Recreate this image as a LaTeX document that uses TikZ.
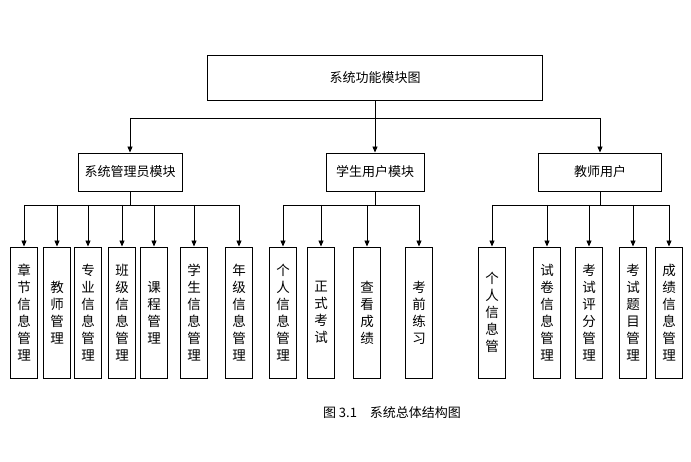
\documentclass[tikz,border=0pt]{standalone}
\usepackage{fontspec}
\newfontfamily\cjk{Noto Sans CJK SC}
\usetikzlibrary{arrows.meta}
\begin{document}
\begin{tikzpicture}[x=1pt,y=-1pt,
  box/.style={draw,line width=0.9pt,font=\cjk\fontsize{13}{15}\selectfont,inner sep=0pt},
  vbox/.style={draw,line width=0.9pt,font=\cjk\fontsize{13.5}{17}\selectfont,minimum width=27pt,minimum height=131pt,align=center,inner sep=0pt},
  arr/.style={-{Triangle[length=6pt,width=5pt]},line width=0.9pt},
  ln/.style={line width=0.9pt}]
\useasboundingbox (0,0) rectangle (691,462);
\node[box,minimum width=335pt,minimum height=45pt] (top) at (375,77.5) {系统功能模块图};
\node[box,minimum width=104pt,minimum height=38pt] (a) at (130,172) {系统管理员模块};
\node[box,minimum width=98pt,minimum height=38pt] (s) at (375,172) {学生用户模块};
\node[box,minimum width=123pt,minimum height=38pt] (t) at (600,172) {教师用户};
\coordinate (tb) at (375,118);
\draw[ln] (top.south) -- (tb);
\draw[ln] (130,118) -- (600,118);
\draw[arr] (130,118) -- (a.north);
\draw[arr] (tb) -- (s.north);
\draw[arr] (600,118) -- (t.north);
\foreach \n/\x/\t in {a1/24/章\\节\\信\\息\\管\\理, a2/57/教\\师\\管\\理, a3/88/专\\业\\信\\息\\管\\理, a4/122/班\\级\\信\\息\\管\\理, a5/154/课\\程\\管\\理, a6/194/学\\生\\信\\息\\管\\理, a7/239/年\\级\\信\\息\\管\\理,
  s1/283/个\\人\\信\\息\\管\\理, s2/321/正\\式\\考\\试, s3/367/查\\看\\成\\绩, s4/419/考\\前\\练\\习,
  t1/492/个\\人\\信\\息\\管, t2/547/试\\卷\\信\\息\\管\\理, t3/589/考\\试\\评\\分\\管\\理, t4/633/考\\试\\题\\目\\管\\理, t5/669/成\\绩\\信\\息\\管\\理}
  {\node[vbox] (\n) at (\x,312.5) {\t};}
\draw[ln] (a.south) -- (130,205);
\draw[ln] (24,205) -- (239,205);
\foreach \n/\x in {a1/24,a2/57,a3/88,a4/122,a5/154,a6/194,a7/239} \draw[arr] (\x,205) -- (\n.north);
\draw[ln] (s.south) -- (375,205);
\draw[ln] (283,205) -- (419,205);
\foreach \n/\x in {s1/283,s2/321,s3/367,s4/419} \draw[arr] (\x,205) -- (\n.north);
\draw[ln] (t.south) -- (600,205);
\draw[ln] (492,205) -- (669,205);
\foreach \n/\x in {t1/492,t2/547,t3/589,t4/633,t5/669} \draw[arr] (\x,205) -- (\n.north);
\node[font=\cjk\fontsize{13}{15}\selectfont] (cap) at (392,413) {图 3.1\quad 系统总体结构图};
\end{tikzpicture}
\end{document}
